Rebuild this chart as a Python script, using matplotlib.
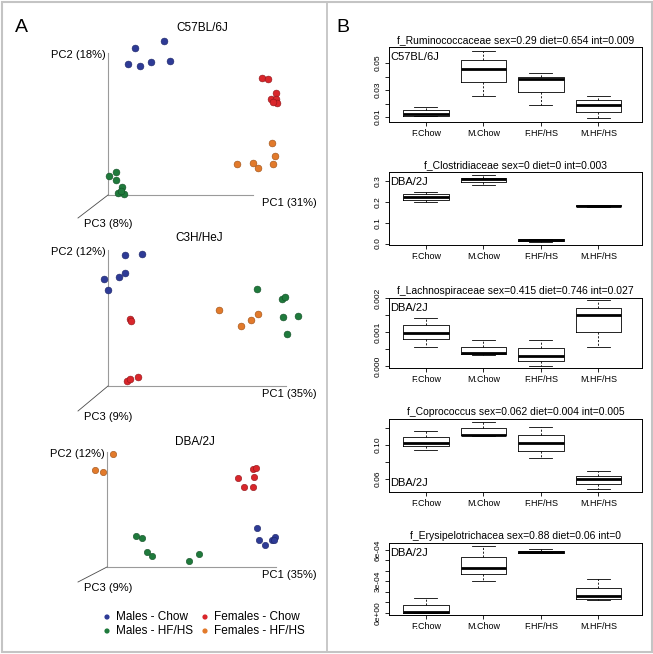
import matplotlib
matplotlib.use("Agg")
import matplotlib.pyplot as plt
from matplotlib.patches import Rectangle

plt.rcParams['font.family'] = ['Liberation Sans', 'DejaVu Sans']

W, H = 653, 654

# ---------------- panel A data: PCA scores projected onto the page ----------------
# x runs along PC1, y along PC2 (relative to each plot's origin)
groups = ["Males - Chow", "Females - Chow", "Males - HF/HS", "Females - HF/HS"]
group_colors = ["#2e3b96", "#d9262b", "#1f7a3c", "#e27a2b"]
edge_colors = ["#1c2566", "#8e1418", "#124d25", "#9a4f16"]

strains = ["C57BL/6J", "C3H/HeJ", "DBA/2J"]
pc1_labels = ["PC1 (31%)", "PC1 (35%)", "PC1 (35%)"]
pc2_labels = ["PC2 (18%)", "PC2 (12%)", "PC2 (12%)"]
pc3_labels = ["PC3 (8%)", "PC3 (9%)", "PC3 (9%)"]

# order: males chow, females chow, males HF/HS, females HF/HS
c57_x = [[27, 56, 20, 32, 43, 62],
         [154, 160, 168, 163, 168, 169, 165],
         [1, 8, 8, 14, 10, 16, 13],
         [164, 167, 165, 129, 145, 150]]
c57_y = [[147, 154, 131, 129, 133, 134],
         [117, 116, 102, 96, 96, 92, 93],
         [19, 23, 15, 8, 2, 1, 4],
         [52, 39, 31, 31, 32, 27]]

c3h_x = [[17, 34, 17, 11, -4, 0],
         [22, 23, 19, 22, 30],
         [149, 174, 177, 175, 190, 179],
         [111, 150, 143, 133]]
c3h_y = [[131, 132, 113, 109, 107, 96],
         [67, 65, 5, 7, 9],
         [97, 87, 89, 69, 70, 52],
         [76, 72, 66, 60]]

dba_x = [[150, 152, 158, 165, 168, 167],
         [131, 146, 149, 147, 137, 146],
         [29, 35, 40, 45, 82, 92],
         [6, -12, -4]]
dba_y = [[39, 27, 22, 27, 30, 27],
         [89, 98, 99, 90, 80, 80],
         [31, 29, 15, 11, 6, 13],
         [113, 97, 95]]

pca_x = [c57_x, c3h_x, dba_x]
pca_y = [c57_y, c3h_y, dba_y]

# ---------------- panel B data: boxplot five-number summaries ----------------
box_groups = ["F.Chow", "M.Chow", "F.HF/HS", "M.HF/HS"]
taxa_titles = ["f_Ruminococcaceae sex=0.29 diet=0.654 int=0.009",
               "f_Clostridiaceae sex=0 diet=0 int=0.003",
               "f_Lachnospiraceae sex=0.415 diet=0.746 int=0.027",
               "f_Coprococcus sex=0.062 diet=0.004 int=0.005",
               "f_Erysipelotrichacea sex=0.88 diet=0.06 int=0"]
strain_tags = ["C57BL/6J", "DBA/2J", "DBA/2J", "DBA/2J", "DBA/2J"]

# each row: whisker low, q1, median, q3, whisker high
rumino = [[0.0105, 0.0107, 0.0122, 0.0152, 0.0176],
          [0.0258, 0.0362, 0.0458, 0.0522, 0.0591],
          [0.0189, 0.0285, 0.0381, 0.0399, 0.0426],
          [0.0093, 0.0135, 0.0187, 0.0226, 0.0258]]
clostri = [[0.198, 0.209, 0.222, 0.236, 0.249],
           [0.283, 0.297, 0.309, 0.316, 0.328],
           [0.006, 0.011, 0.015, 0.020, 0.023],
           [0.178, 0.180, 0.182, 0.184, 0.186]]
lachno = [[0.00058, 0.00079, 0.00099, 0.00122, 0.00143],
          [0.00034, 0.00036, 0.00039, 0.00057, 0.00076],
          [0.00001, 0.00016, 0.00030, 0.00053, 0.00076],
          [0.00056, 0.00102, 0.00149, 0.00170, 0.00194]]
copro = [[0.0941, 0.0985, 0.1024, 0.1098, 0.1168],
         [0.1106, 0.1114, 0.1122, 0.1196, 0.1267],
         [0.0851, 0.0933, 0.1024, 0.1118, 0.1216],
         [0.0479, 0.0538, 0.0596, 0.0639, 0.0694]]
erysi = [[0.0, 0.0, 0.000004, 0.000071, 0.000144],
         [0.000306, 0.000370, 0.000431, 0.000536, 0.000641],
         [0.000568, 0.000574, 0.000584, 0.000593, 0.000607],
         [0.000119, 0.000131, 0.000160, 0.000233, 0.000319]]
box_data = [rumino, clostri, lachno, copro, erysi]

y_limits = [(0.0063, 0.0619), (-0.0072, 0.344), (-0.000046, 0.00197),
            (0.0447, 0.1306), (-0.000022, 0.000667)]
y_ticks = [[0.01, 0.02, 0.03, 0.04, 0.05],
           [0.0, 0.1, 0.2, 0.3],
           [0.0, 0.0005, 0.001, 0.0015, 0.002],
           [0.06, 0.08, 0.10, 0.12],
           [0.0, 0.0001, 0.0002, 0.0003, 0.0004, 0.0005, 0.0006]]
y_ticklabels = [["0.01", "", "0.03", "", "0.05"],
                ["0.0", "0.1", "0.2", "0.3"],
                ["0.000", "", "0.001", "", "0.002"],
                ["0.06", "", "0.10", ""],
                ["0e+00", "", "", "3e-04", "", "", "6e-04"]]


def px_rect(left, top, right, bottom):
    return [left / W, 1 - bottom / H, (right - left) / W, (bottom - top) / H]


fig = plt.figure(figsize=(W / 100, H / 100), dpi=100)

# overlay in pixel coordinates for panel A and the frame
axA = fig.add_axes([0, 0, 1, 1])
axA.set_xlim(0, W)
axA.set_ylim(H, 0)
axA.axis("off")

axA.add_patch(Rectangle((1.5, 1.5), W - 3, H - 4, fill=False, ec="#c4c4c4", lw=1.5))
axA.plot([326.5, 326.5], [1.5, H - 2.5], color="#c4c4c4", lw=1.3)

axA.text(15, 28, "A", fontsize=14, va="center", ha="left")
axA.text(336, 28, "B", fontsize=14, va="center", ha="left")

# origin (px), PC2 height, PC1 length, PC3 end offset, title position
origins = [(108, 195), (108, 386), (107, 567)]
pc2_len = [142, 136, 115]
pc1_len = [145, 178, 169]
pc3_end = [(-30, -23), (-30, -25), (-29, -15)]
title_pos = [(202, 28), (199, 238), (195, 442)]
dot_size = [24, 24, 21]

for i, strain in enumerate(strains):
    ox, oy = origins[i]
    axA.plot([ox, ox], [oy, oy - pc2_len[i]], color="#9a9a9a", lw=0.8)
    axA.plot([ox, ox + pc1_len[i]], [oy, oy], color="#9a9a9a", lw=0.8)
    axA.plot([ox, ox + pc3_end[i][0]], [oy, oy - pc3_end[i][1]], color="#4a4a4a", lw=0.6)
    axA.text(ox - 2, oy - pc2_len[i] + 2, pc2_labels[i], fontsize=8, ha="right", va="center")
    axA.text(262, oy + 8, pc1_labels[i], fontsize=8, ha="left", va="center")
    axA.text(ox + pc3_end[i][0] + 6, oy - pc3_end[i][1] + 6, pc3_labels[i],
             fontsize=8, ha="left", va="center")
    axA.text(title_pos[i][0], title_pos[i][1], strain, fontsize=8.5, ha="center", va="center")
    for g, col in enumerate(group_colors):
        xs = [ox + v for v in pca_x[i][g]]
        ys = [oy - v for v in pca_y[i][g]]
        axA.scatter(xs, ys, s=dot_size[i], color=col, edgecolors=edge_colors[g],
                    linewidths=0.4, zorder=3)

# legend of panel A (two columns: males left, females right)
leg_x = [107, 107, 205, 205]
leg_y = [617, 631, 617, 631]
leg_order = [0, 2, 1, 3]
for slot, g in enumerate(leg_order):
    lx, ly = leg_x[slot], leg_y[slot]
    axA.scatter([lx], [ly], s=14, color=group_colors[g], edgecolors="none", zorder=3)
    axA.text(lx + 9, ly, groups[g], fontsize=8.5, ha="left", va="center")

# ---------------- panel B boxplots ----------------
frames = [(47, 122), (172, 245), (298, 368), (419, 492), (543, 615)]
for k in range(5):
    top, bottom = frames[k]
    ax = fig.add_axes(px_rect(389, top, 642, bottom))
    stats = []
    for lo, q1, med, q3, hi in box_data[k]:
        stats.append(dict(whislo=lo, q1=q1, med=med, q3=q3, whishi=hi, fliers=[]))
    ax.bxp(stats, positions=[1, 2, 3, 4], widths=0.79, showfliers=False,
           boxprops=dict(color="black", lw=0.6),
           medianprops=dict(color="black", lw=2.0, solid_capstyle="butt"),
           whiskerprops=dict(color="black", lw=0.6, linestyle=(0, (2.5, 2))),
           capprops=dict(color="black", lw=0.6), capwidths=0.4)
    ax.set_xlim(0.36, 4.76)
    ax.set_ylim(*y_limits[k])
    ax.set_xticks([1, 2, 3, 4])
    ax.set_xticklabels(box_groups, fontsize=6.5)
    ax.set_yticks(y_ticks[k])
    ax.set_yticklabels(y_ticklabels[k], fontsize=6, rotation=90, va="center")
    ax.tick_params(axis="both", length=3, width=0.6, pad=2, direction="out")
    for sp in ax.spines.values():
        sp.set_linewidth(0.7)
    ax.set_title(taxa_titles[k], fontsize=7.5, pad=3)
    tag_y = 0.12 if k == 3 else 0.86
    ax.text(0.005, tag_y, strain_tags[k], transform=ax.transAxes, fontsize=8,
            ha="left", va="center")

fig.savefig("out.png", dpi=100)
